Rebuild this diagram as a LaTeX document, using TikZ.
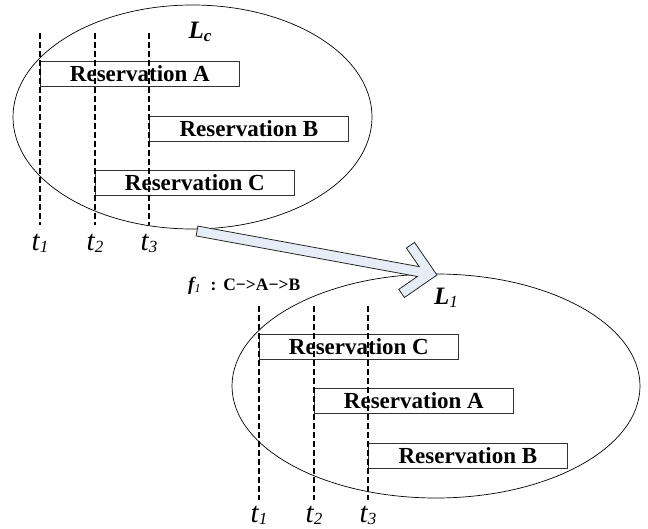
\documentclass[tikz,border=0pt]{standalone}
\usepackage{fontspec}
\setmainfont{Liberation Serif}
\definecolor{arrowfill}{RGB}{230,237,247}
\newcommand\tsub[1]{t\raisebox{-2pt}{\fontsize{17}{17}\selectfont #1}}
\begin{document}
\begin{tikzpicture}[x=1pt,y=-1pt,
  resbox/.style={draw=black!80, line width=0.8pt, fill=white, minimum width=199pt, minimum height=25pt, inner sep=0pt, anchor=north west, font=\fontsize{23}{24}\selectfont\bfseries},
  ell/.style={draw, line width=0.7pt},
  dline/.style={draw, line width=1.1pt, dash pattern=on 6pt off 3pt},
  tlab/.style={inner sep=0pt, font=\fontsize{29}{30}\selectfont\itshape},
  llab/.style={inner sep=0pt, font=\fontsize{25}{26}\selectfont\bfseries\itshape},
  blockarrow/.style={draw=black!85, line width=0.8pt, fill=arrowfill, line join=miter}]
\useasboundingbox (0,0) rectangle (648,529);

% ellipses
\draw[ell] (192.5,117) ellipse [x radius=179.5, y radius=112];
\draw[ell] (436,386) ellipse [x radius=204, y radius=112];

% top reservation boxes
\node[resbox] (ta) at (40,61) {Reservation A};
\node[resbox] (tb) at (149,116) {Reservation B};
\node[resbox] (tc) at (95,170) {Reservation C};

% bottom reservation boxes
\node[resbox] (bc) at (259,334) {Reservation C};
\node[resbox] (ba) at (314,388) {Reservation A};
\node[resbox] (bb) at (368,443) {Reservation B};

% top dashed lines
\coordinate (u1t) at (40,33);  \coordinate (u1b) at (40,225);
\coordinate (u2t) at (95,33);  \coordinate (u2b) at (95,225);
\coordinate (u3t) at (149,33); \coordinate (u3b) at (149,225);
\draw[dline] (u1t) -- (u1b);
\draw[dline] (u2t) -- (u2b);
\draw[dline] (u3t) -- (u3b);
\node[tlab] (ut1) at (40,243) {\tsub{1}};
\node[tlab] (ut2) at (95,243) {\tsub{2}};
\node[tlab] (ut3) at (149,243) {\tsub{3}};

% bottom dashed lines
\coordinate (d1t) at (259,306); \coordinate (d1b) at (259,500);
\coordinate (d2t) at (314,306); \coordinate (d2b) at (314,500);
\coordinate (d3t) at (368,306); \coordinate (d3b) at (368,500);
\draw[dline] (d1t) -- (d1b);
\draw[dline] (d2t) -- (d2b);
\draw[dline] (d3t) -- (d3b);
\node[tlab] (dt1) at (259,515) {\tsub{1}};
\node[tlab] (dt2) at (314,515) {\tsub{2}};
\node[tlab] (dt3) at (368,515) {\tsub{3}};

% labels
\node[llab] (lc) at (200,32) {L\raisebox{-3pt}{\fontsize{17}{17}\selectfont c}};
\node[llab] (l1) at (446,298) {L\raisebox{-3pt}{\fontsize{17}{17}\selectfont\mdseries 1}};
\node[inner sep=0pt, anchor=west, font=\fontsize{17.5}{18}\selectfont\bfseries] (f1) at (188,286)
  {{\fontsize{19}{19}\selectfont\itshape f}\raisebox{-2pt}{\fontsize{12}{12}\selectfont\mdseries\itshape 1}\hspace{10pt}:\hspace{7pt}C−>A−>B};

% block arrow
\begin{scope}[shift={(437,275)}, rotate=-10.39]
\draw[blockarrow] (0,0) -- (-28,28) -- (-35,21) -- (-19,5) -- (-244,5) -- (-244,-5) -- (-19,-5) -- (-35,-21) -- (-28,-28) -- cycle;
\end{scope}
\end{tikzpicture}
\end{document}
